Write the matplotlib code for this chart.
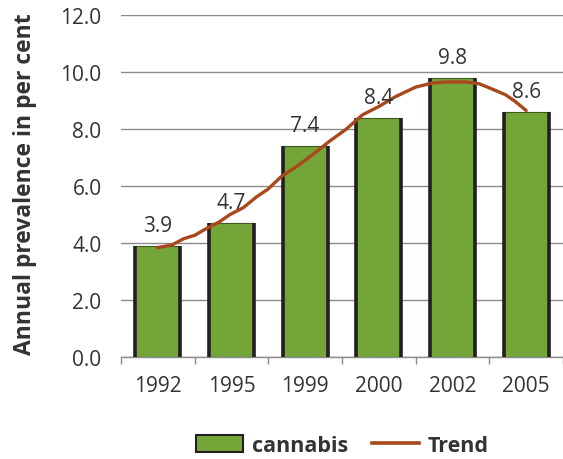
import numpy as np
import matplotlib
matplotlib.use('Agg')
import matplotlib.pyplot as plt
from matplotlib.patches import Patch
from matplotlib.lines import Line2D

plt.rcParams['font.family'] = ['Open Sans', 'DejaVu Sans']

# data
years = ['1992', '1995', '1999', '2000', '2002', '2005']
cannabis = [3.9, 4.7, 7.4, 8.4, 9.8, 8.6]

# trend curve (x in category units)
trend_x = [0.0, 0.19, 0.35, 0.50, 0.62, 0.84, 0.98, 1.16, 1.34, 1.49, 1.68, 1.92,
           2.10, 2.33, 2.55, 2.78, 3.0, 3.23, 3.5, 3.72, 3.9, 4.18, 4.36, 4.54,
           4.72, 4.85, 5.0]
trend_y = [3.84, 3.93, 4.15, 4.27, 4.45, 4.75, 5.0, 5.24, 5.62, 5.88, 6.34, 6.75,
           7.10, 7.57, 7.98, 8.50, 8.79, 9.14, 9.47, 9.61, 9.65, 9.65, 9.59, 9.40,
           9.20, 8.97, 8.65]

bar_color = '#74a538'
edge_color = '#231f20'
trend_color = '#a8481c'
text_color = '#333333'

fig = plt.figure(figsize=(5.63, 4.60), dpi=100)
ax = fig.add_axes([121 / 563, 0.2217, 442 / 563, 0.7435])

x = np.arange(len(years))
w = 0.61
ax.bar(x, cannabis, width=w, color=bar_color, edgecolor='#3d5a1c', linewidth=0.8, zorder=2)
ax.vlines(x - w / 2, 0, cannabis, color=edge_color, linewidth=2.6, zorder=3)
ax.vlines(x + w / 2, 0, cannabis, color=edge_color, linewidth=2.6, zorder=3)

for xi, v in zip(x, cannabis):
    ax.text(xi, v + 0.35, f'{v:.1f}', ha='center', va='bottom', fontsize=15, color=text_color, zorder=5)

ax.plot(trend_x, trend_y, color=trend_color, linewidth=2.4, zorder=4, solid_capstyle='round')

ax.set_xlim(-0.5, len(years) - 0.5)
ax.set_ylim(0, 12)
ax.set_yticks(np.arange(0, 13, 2))
ax.set_yticklabels([f'{t:.1f}' for t in np.arange(0, 13, 2)], fontsize=15, color=text_color)
ax.yaxis.grid(True, color='#8c8c8c', linewidth=1.0, zorder=0)
ax.set_axisbelow(True)
ax.tick_params(axis='y', length=0, pad=14)

ax.set_xticks(x)
ax.set_xticklabels(years, fontsize=15, color=text_color)
ax.set_xticks(np.arange(-0.5, len(years)), minor=True)
ax.tick_params(axis='x', which='major', length=0, pad=13)
ax.tick_params(axis='x', which='minor', length=5, width=1.0, color='#8c8c8c', direction='out')

for s in ['top', 'right', 'left']:
    ax.spines[s].set_visible(False)
ax.spines['bottom'].set_color('#8c8c8c')
ax.spines['bottom'].set_linewidth(1.0)

fig.text(0.044, 0.600, 'Annual prevalence in per cent', rotation=90, ha='center', va='center',
         fontsize=16.5, fontweight='bold', color=text_color)

handles = [Patch(facecolor=bar_color, edgecolor=edge_color, linewidth=1.5),
           Line2D([0], [0], color=trend_color, linewidth=2.6)]
leg = fig.legend(handles, ['cannabis', 'Trend'], loc='center', bbox_to_anchor=(0.608, 0.030),
                 ncol=2, frameon=False, prop={'weight': 'bold', 'size': 15.5},
                 handlelength=2.2, handleheight=0.9, columnspacing=1.1, handletextpad=0.4)
for t in leg.get_texts():
    t.set_color(text_color)

fig.savefig('out.png', dpi=100)
